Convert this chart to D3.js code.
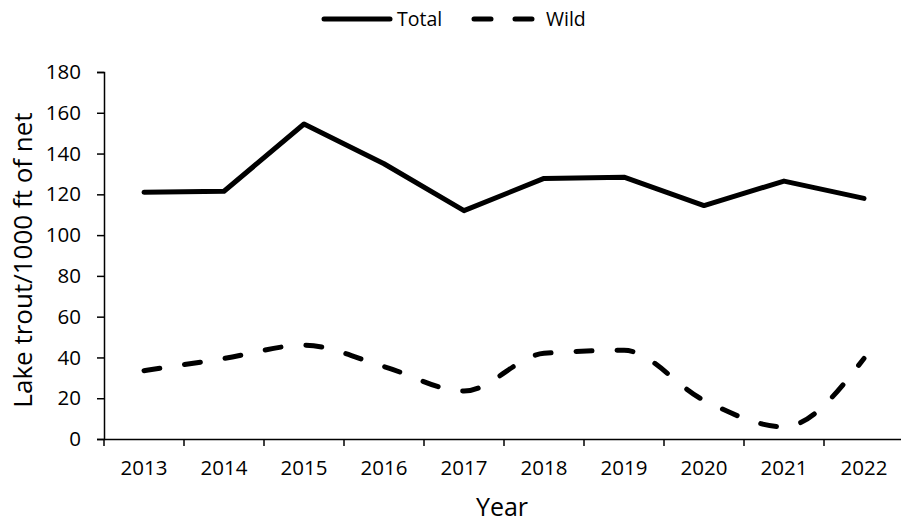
<!DOCTYPE html>
<html>
<head>
<meta charset="utf-8">
<script src="https://cdn.jsdelivr.net/npm/d3@7"></script>
<style>
  html, body { margin: 0; padding: 0; background: #fff; }
  svg { display: block; }
  text { font-family: "Open Sans", "Noto Sans", sans-serif; fill: #000; }
</style>
</head>
<body>
<svg id="chart" width="901" height="523"></svg>
<script>
const years = ["2013","2014","2015","2016","2017","2018","2019","2020","2021","2022"];
const totalValues = [121, 121.5, 154.5, 135, 112, 127.8, 128.4, 114.5, 126.5, 118];
const wildValues = [33.5, 39.5, 46, 35.5, 23.5, 42, 43.5, 19, 6, 39.5];
const yTicks = [0, 20, 40, 60, 80, 100, 120, 140, 160, 180];
const seriesNames = ["Total", "Wild"];

const svg = d3.select("#chart");
const mLeft = 104, mRight = 904, mTop = 72, mBottom = 439;

const x = d3.scaleBand().domain(years).range([mLeft, mRight]).paddingInner(0).paddingOuter(0);
const y = d3.scaleLinear().domain([0, 180]).range([mBottom, mTop]);

// Y axis
const yAxis = svg.append("g")
  .attr("transform", `translate(${mLeft},0)`)
  .call(d3.axisLeft(y).tickValues(yTicks).tickSize(7).tickPadding(16).tickFormat(d3.format("d")));
yAxis.select(".domain").attr("stroke", "#000").attr("stroke-width", 1.5);
yAxis.selectAll(".tick line").attr("stroke", "#000").attr("stroke-width", 1.5);
yAxis.selectAll(".tick text").style("font-size", "20.5px").style("font-family", "'Open Sans', sans-serif").attr("fill", "#000");

// X axis
const xAxis = svg.append("g")
  .attr("transform", `translate(0,${mBottom})`)
  .call(d3.axisBottom(x).tickSize(0).tickPadding(21));
xAxis.select(".domain").attr("stroke", "#000").attr("stroke-width", 1.5);
xAxis.selectAll(".tick text").style("font-size", "20.5px").style("font-family", "'Open Sans', sans-serif").attr("fill", "#000");
// category boundary ticks
const boundaries = years.map(d => x(d)).concat([x(years[years.length-1]) + x.bandwidth()]);
xAxis.selectAll("line.bound").data(boundaries).enter().append("line")
  .attr("class", "bound")
  .attr("x1", d => d).attr("x2", d => d)
  .attr("y1", 0).attr("y2", 7)
  .attr("stroke", "#000").attr("stroke-width", 1.5);

const cx = d => x(d) + x.bandwidth() / 2;

// Total line
const lineTotal = d3.line().x((d, i) => cx(years[i])).y(d => y(d)).curve(d3.curveLinear);
svg.append("path").datum(totalValues)
  .attr("d", lineTotal)
  .attr("fill", "none").attr("stroke", "#000").attr("stroke-width", 5)
  .attr("stroke-linejoin", "round").attr("stroke-linecap", "round");

// Wild line (smoothed, dashed)
const lineWild = d3.line().x((d, i) => cx(years[i])).y(d => y(d)).curve(d3.curveMonotoneX);
svg.append("path").datum(wildValues)
  .attr("d", lineWild)
  .attr("fill", "none").attr("stroke", "#000").attr("stroke-width", 5)
  .attr("stroke-dasharray", "16,25")
  .attr("stroke-linecap", "round");

// Axis titles
svg.append("text")
  .attr("x", 502).attr("y", 516)
  .attr("text-anchor", "middle")
  .style("font-size", "25px")
  .text("Year");
svg.append("text")
  .attr("transform", `translate(32,260) rotate(-90)`)
  .attr("text-anchor", "middle")
  .style("font-size", "26px")
  .text("Lake trout/1000 ft of net");

// Legend
const lg = svg.append("g");
lg.append("line").attr("x1", 324).attr("x2", 390).attr("y1", 19).attr("y2", 19)
  .attr("stroke", "#000").attr("stroke-width", 5).attr("stroke-linecap", "round");
lg.append("text").attr("x", 397).attr("y", 26).style("font-size", "19.5px").text(seriesNames[0]);
lg.append("line").attr("x1", 474).attr("x2", 536).attr("y1", 19).attr("y2", 19)
  .attr("stroke", "#000").attr("stroke-width", 5).attr("stroke-linecap", "round")
  .attr("stroke-dasharray", "17,24");
lg.append("text").attr("x", 546).attr("y", 26).style("font-size", "19.5px").text(seriesNames[1]);
</script>
</body>
</html>
